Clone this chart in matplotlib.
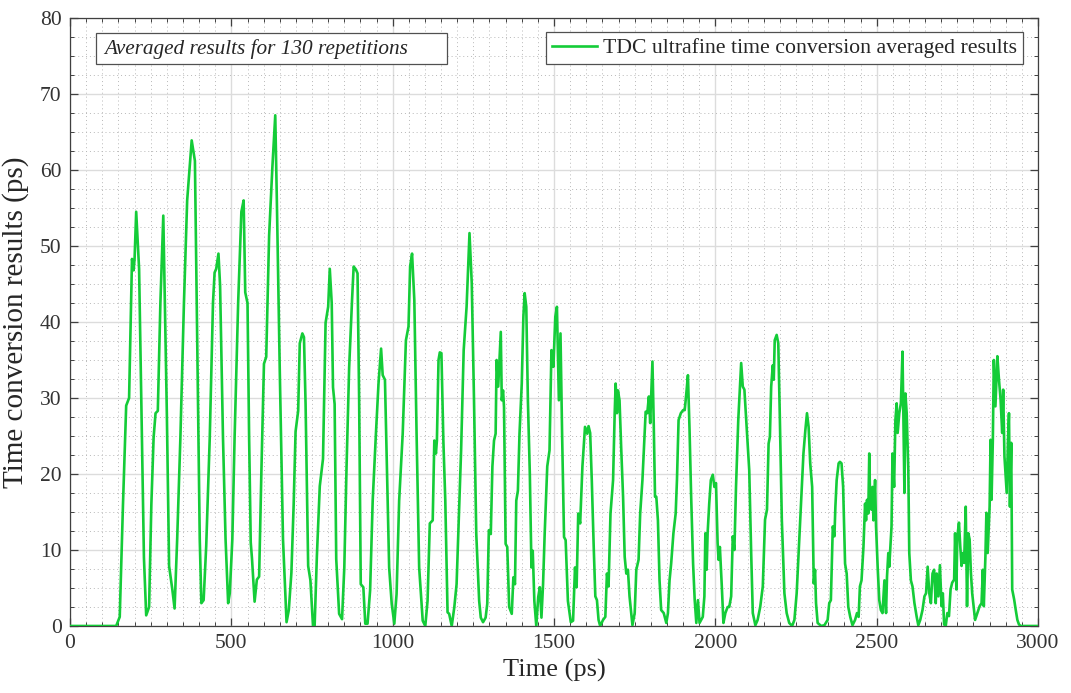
import matplotlib
matplotlib.use("Agg")
import matplotlib.pyplot as plt
from matplotlib.ticker import MultipleLocator
from matplotlib.patches import Rectangle
import numpy as np

# Averaged ultrafine time-conversion results (130 repetitions)
time_ps = [
    0, 143, 154, 164, 174, 183, 192, 197, 200, 205, 214, 221, 229, 236, 245,
    252, 259, 265, 272, 280, 289, 300, 307, 317, 324, 332, 342, 353, 363, 377,
    387, 394, 402, 407, 414, 422, 433, 443, 448, 453, 460, 465, 474, 482, 490,
    495, 503, 510, 521, 531, 538, 543, 550, 555, 560, 564, 572, 579, 586, 593,
    601, 608, 617, 627, 636, 641, 650, 660, 671, 678, 686, 693, 699, 707, 712,
    720, 725, 730, 738, 745, 753, 758, 765, 774, 784, 792, 800, 805, 811, 815,
    820, 825, 834, 843, 850, 857, 865, 874, 879, 886, 891, 896, 901, 909, 915,
    922, 930, 938, 948, 956, 964, 969, 976, 982, 989, 997, 1005, 1012, 1020, 1031,
    1041, 1049, 1054, 1060, 1067, 1074, 1082, 1093, 1101, 1108, 1115, 1124, 1129, 1134, 1137,
    1142, 1146, 1151, 1157, 1163, 1170, 1175, 1183, 1191, 1198, 1204, 1212, 1220, 1229, 1238,
    1245, 1252, 1259, 1268, 1273, 1280, 1288, 1293, 1298, 1304, 1309, 1314, 1319, 1322, 1327,
    1331, 1335, 1338, 1342, 1345, 1350, 1355, 1361, 1369, 1374, 1379, 1383, 1388, 1393, 1400,
    1405, 1409, 1414, 1419, 1425, 1430, 1434, 1439, 1445, 1451, 1456, 1461, 1466, 1471, 1479,
    1486, 1492, 1498, 1504, 1509, 1515, 1520, 1525, 1531, 1536, 1543, 1552, 1559, 1565, 1570,
    1575, 1581, 1588, 1596, 1603, 1607, 1612, 1617, 1623, 1628, 1633, 1638, 1643, 1652, 1659,
    1664, 1669, 1675, 1683, 1688, 1691, 1695, 1698, 1703, 1708, 1714, 1719, 1724, 1729, 1734,
    1743, 1750, 1755, 1762, 1767, 1774, 1779, 1784, 1789, 1794, 1798, 1805, 1809, 1813, 1817,
    1822, 1827, 1832, 1840, 1848, 1853, 1858, 1863, 1870, 1877, 1881, 1886, 1893, 1900, 1905,
    1910, 1915, 1920, 1925, 1931, 1936, 1941, 1946, 1951, 1961, 1966, 1969, 1973, 1976, 1981,
    1986, 1992, 1997, 2002, 2007, 2010, 2014, 2020, 2025, 2031, 2038, 2043, 2049, 2054, 2059,
    2064, 2071, 2080, 2085, 2090, 2097, 2105, 2111, 2116, 2124, 2131, 2139, 2147, 2154, 2160,
    2165, 2169, 2173, 2178, 2181, 2184, 2190, 2195, 2200, 2206, 2214, 2221, 2229, 2238, 2245,
    2252, 2258, 2265, 2273, 2279, 2284, 2289, 2294, 2300, 2305, 2309, 2312, 2317, 2328, 2338,
    2348, 2353, 2358, 2364, 2369, 2372, 2376, 2382, 2386, 2391, 2396, 2402, 2407, 2412, 2418,
    2425, 2433, 2439, 2444, 2448, 2453, 2459, 2464, 2467, 2470, 2474, 2477, 2480, 2484, 2487,
    2490, 2495, 2498, 2503, 2508, 2513, 2518, 2524, 2529, 2532, 2536, 2539, 2542, 2546, 2549,
    2554, 2558, 2562, 2565, 2570, 2575, 2580, 2586, 2589, 2593, 2598, 2601, 2606, 2611, 2617,
    2624, 2629, 2635, 2642, 2648, 2653, 2658, 2663, 2668, 2673, 2678, 2683, 2686, 2691, 2696,
    2701, 2705, 2709, 2714, 2719, 2724, 2729, 2734, 2740, 2743, 2747, 2750, 2755, 2759, 2763,
    2767, 2771, 2776, 2780, 2784, 2788, 2792, 2796, 2805, 2812, 2819, 2825, 2829, 2832, 2837,
    2840, 2844, 2850, 2853, 2856, 2860, 2863, 2868, 2874, 2879, 2884, 2889, 2892, 2896, 2903,
    2907, 2910, 2913, 2917, 2920, 2926, 2931, 2936, 2941, 2946, 3000,
]

conversion_ps = [
    0, 0, 1.2, 15.9, 29, 30, 48.3, 46.8, 48.3, 54.5, 47, 29, 9, 1.4, 2.5,
    16, 24.8, 28, 28.3, 42.5, 54, 28, 7.9, 4.8, 2.3, 11.4, 24.8, 42.5, 56, 63.9,
    61.2, 38, 11.4, 3, 3.4, 10.5, 24.8, 42.5, 46.5, 47, 49, 44.8, 24.8, 11.4, 3,
    4.3, 11.4, 24.8, 42.5, 54.5, 56, 43.9, 42.5, 24.8, 11, 8.8, 3.2, 6.1, 6.5, 20.3,
    34.5, 35.4, 51.4, 60.3, 67.2, 55.9, 33.6, 11.4, 0.5, 2.1, 7, 15.9, 25.6, 28.3, 37.2,
    38.5, 38, 29.2, 7.9, 6, 0, 0, 9.2, 18.4, 22, 39.9, 42, 47, 42.5, 31.4,
    29.2, 8.8, 1.6, 0.9, 7.7, 21, 34, 42.9, 47.3, 46.9, 46.4, 29.7, 5.5, 5.1, 0.3,
    0.3, 4.7, 16.5, 25.3, 31.9, 36.5, 33, 32.4, 21, 7.7, 2.9, 0.3, 4.2, 16.5, 25.3,
    37.6, 39.4, 47.3, 49, 42.9, 25.3, 7.7, 0.7, 0, 3.3, 13.5, 13.9, 24.4, 22.7, 24.4,
    35, 36, 35.9, 24.4, 16.5, 1.8, 1.6, 0, 2.5, 5.5, 13, 23.1, 36.3, 42, 51.7,
    45.1, 29.7, 12.1, 3.3, 1.1, 0.5, 1.1, 2.9, 12.6, 12.1, 21, 24.4, 25.3, 35, 31.5,
    35, 38.7, 29.7, 31, 28.8, 10.8, 10.4, 2.5, 1.6, 6.4, 5.5, 16.5, 17.8, 25.3, 31.9,
    40.7, 43.8, 42, 29.7, 20, 7.7, 9.9, 3.3, 0, 3.8, 5.1, 1.1, 5.5, 12.1, 21,
    23.1, 36.3, 34.1, 40.7, 42, 29.7, 38.5, 25.3, 11.7, 11.3, 3.3, 0.5, 0.7, 7.7, 5.1,
    14.8, 13.5, 21, 26.2, 25.3, 26.3, 25.4, 19.2, 10.4, 3.9, 3.4, 0.8, 0, 0.8, 1.2,
    6.9, 5.2, 14.8, 19.2, 28, 31.9, 28, 31, 29.7, 23.6, 17, 9.1, 6.9, 7.4, 3.9,
    0.1, 1.7, 7.4, 8.7, 14.8, 19.2, 23.6, 28.2, 28, 30.2, 26.7, 34.8, 26.7, 17, 17,
    13.9, 6, 2.1, 1.7, 0.4, 1.7, 6, 8.2, 12.2, 14.8, 19.2, 27.1, 28, 28.4, 28.4,
    30.6, 33, 25.8, 17, 8.2, 3.4, 0.4, 3.4, 0.4, 1.2, 3.9, 12.2, 7.4, 12.2, 16.1,
    19.2, 19.9, 18.3, 18.8, 10.9, 8.7, 10.4, 5.2, 0.4, 1.7, 2.5, 2.5, 3.9, 11.8, 10,
    18.3, 27.1, 34.6, 31.5, 31.1, 26.2, 20.5, 9.6, 1.7, 0.1, 0.8, 2.5, 5.2, 14, 15.3,
    24, 24.9, 31.5, 34.3, 32.4, 37.6, 38.3, 37.2, 27.1, 14, 4.3, 1.7, 0.4, 0, 0.8,
    4.3, 9.6, 15.7, 22.7, 25.8, 28, 26.2, 21.4, 18.3, 5.6, 7.4, 3, 0.4, 0, 0.1,
    0.8, 3, 3.4, 13.1, 11.8, 15.7, 19.2, 21.4, 21.6, 21.4, 18.3, 8.2, 6.9, 2.5, 1.2,
    0.1, 0.8, 1.7, 1.2, 5.2, 6, 10.4, 16.1, 13.9, 16.6, 14.8, 22.7, 15.7, 15.3, 18.3,
    13.9, 19.2, 13.1, 7.8, 3.4, 2.1, 1.7, 6, 1.7, 6.5, 9.6, 7.8, 10, 13.1, 22.7,
    18.3, 27.1, 29.3, 25.4, 28, 29.3, 36.1, 17.5, 30.6, 28, 20.5, 9.6, 6, 5.2, 3,
    1.2, 0.1, 0.8, 2.1, 3.9, 4.3, 7.8, 4.3, 3, 6.9, 7.4, 3, 6.9, 3.9, 8,
    2.6, 4.3, 0.2, 0, 1.7, 1.3, 4.8, 5.7, 6.1, 12.2, 4.8, 11.8, 13.6, 10.5, 7.9,
    9.6, 8.3, 15.7, 2.6, 12.2, 11.4, 7, 4.3, 0.8, 1.7, 2.6, 3, 7.4, 2.6, 9.2,
    14.9, 9.6, 15.7, 24.5, 16.6, 24.5, 35, 28.9, 35.5, 32.4, 29.8, 25.4, 31.1, 22.3, 17.5,
    24.5, 28, 15.7, 24.1, 4.8, 3.5, 2.1, 0.8, 0.2, 0, 0,
]

x_limits = (0, 3000)
y_limits = (0, 80)
series_label = "TDC ultrafine time conversion averaged results"
note_text = "Averaged results for 130 repetitions"

plt.rcParams["font.family"] = ["Liberation Serif", "DejaVu Serif"]

fig = plt.figure(figsize=(10.71, 6.93), dpi=100)
ax = fig.add_axes([0.0654, 0.0967, 0.9038, 0.8773])

line_color = "#14cc38"
ax.plot(time_ps, conversion_ps, color=line_color, lw=1.9, label=series_label,
        solid_joinstyle="round", zorder=3)

ax.set_xlim(*x_limits)
ax.set_ylim(*y_limits)

ax.xaxis.set_major_locator(MultipleLocator(500))
ax.xaxis.set_minor_locator(MultipleLocator(50))
ax.yaxis.set_major_locator(MultipleLocator(10))
ax.yaxis.set_minor_locator(MultipleLocator(2.5))

ax.grid(which="major", color="#dcdcdc", lw=1.0, ls="-", zorder=0)
ax.grid(which="minor", color="#b8b8b8", lw=0.7, ls=(0, (1, 3)), zorder=0)

axis_color = "#404040"
for sp in ax.spines.values():
    sp.set_color(axis_color)
    sp.set_linewidth(0.9)
ax.tick_params(which="both", direction="in", top=True, right=True,
               colors=axis_color, labelcolor="#333333")
ax.tick_params(which="major", length=6, width=0.9, labelsize=15.5, pad=6)
ax.tick_params(which="minor", length=3, width=0.7)

ax.set_xlabel("Time (ps)", fontsize=19, color="#262626", labelpad=4)
ax.set_ylabel("Time conversion results (ps)", fontsize=21, color="#262626", labelpad=8)

leg = ax.legend(loc="upper right", bbox_to_anchor=(0.9845, 0.977),
                borderaxespad=0, fancybox=False, framealpha=1,
                edgecolor="#505050", fontsize=15.7, handlelength=2.1,
                handletextpad=0.25, borderpad=0.28)
leg.get_frame().set_linewidth(0.9)
for t in leg.get_texts():
    t.set_color("#262626")

# boxed note in the upper-left corner
ax.add_patch(Rectangle((0.0269, 0.924), 0.3626, 0.051, transform=ax.transAxes,
                       facecolor="white", edgecolor="#505050", lw=0.9, zorder=4))
ax.text(0.035, 0.9495, note_text, transform=ax.transAxes, ha="left", va="center",
        fontsize=15.3, style="italic", color="#262626", zorder=5)

fig.savefig("out.png", dpi=100)
